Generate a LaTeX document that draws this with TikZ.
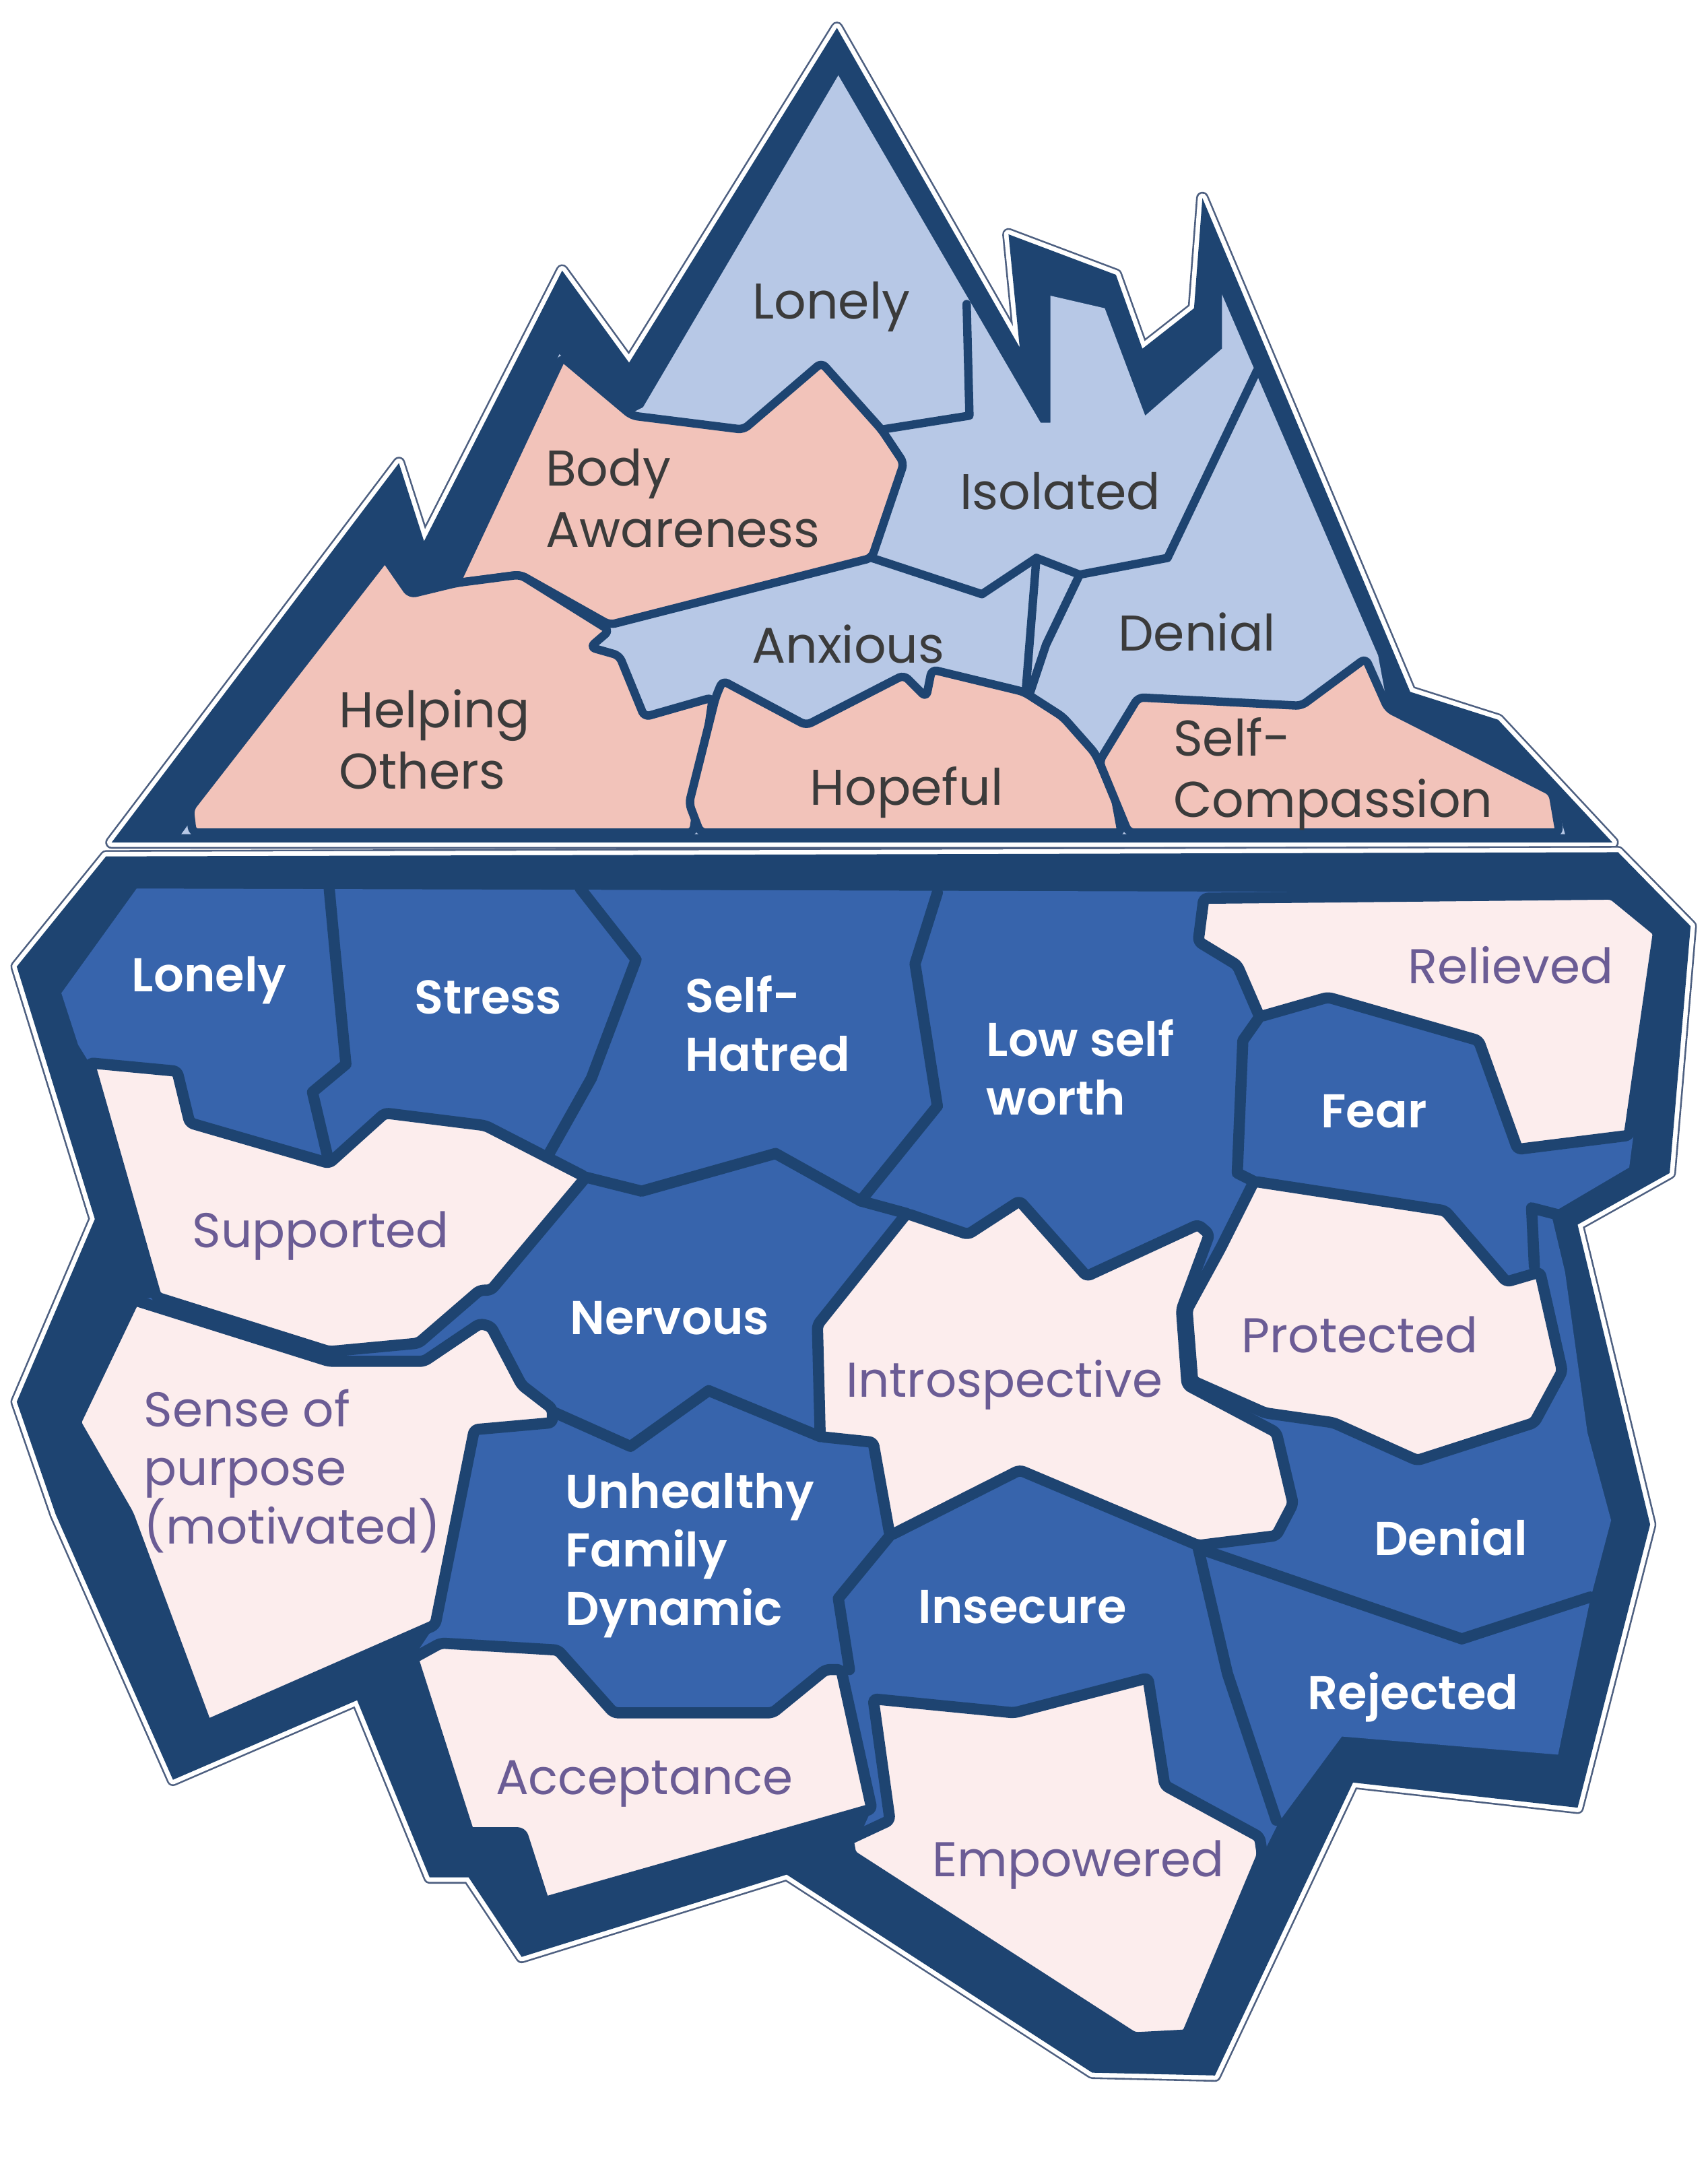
\documentclass[tikz,border=0pt]{standalone}
\usepackage{fontspec}
\setmainfont{Poppins}
\newfontface\semibold{Poppins SemiBold}
\definecolor{bergnavy}{HTML}{1E4471}
\definecolor{bergdeep}{HTML}{3764AC}
\definecolor{bergsky}{HTML}{B7C8E6}
\definecolor{bergsalmon}{HTML}{F2C3BA}
\definecolor{bergblush}{HTML}{FCEDED}
\definecolor{bergplum}{HTML}{6B5C95}
\definecolor{berggrey}{HTML}{3B3B3B}
\definecolor{bergfringe}{HTML}{4D5F80}
\def\topseam{6}
\def\lowseam{8}
\tikzset{
  berg/.style={
    fill=bergnavy,
    line join=round,
    preaction={draw=bergfringe,line width=9pt,line join=round},
    preaction={draw=white,line width=6.5pt,line join=round}
  },
  seam/.style={
    draw=bergnavy,
    line width=#1 pt,
    line join=round,
    line cap=round
  },
  salmon piece/.style={
    fill=bergsalmon,
    seam=\topseam,
    rounded corners=4pt
  },
  blush piece/.style={
    fill=bergblush,
    seam=\lowseam,
    rounded corners=3pt
  },
  top label/.style={
    font=\fontsize{36}{44}\selectfont,
    text=berggrey,
    align=left,
    inner sep=0pt
  },
  deep label/.style={
    font=\fontsize{34}{42}\selectfont\semibold,
    text=white,
    align=left,
    inner sep=0pt
  },
  blush label/.style={
    font=\fontsize{35}{42}\selectfont,
    text=bergplum,
    align=left,
    inner sep=0pt
  }
}

\begin{document}
\begin{tikzpicture}[x=1pt,y=-1pt]
\useasboundingbox (0,0) rectangle (1224,1564.4);

% tip of the iceberg
\path[berg] (80,604) -- (286,332) -- (304,388) -- (403,194) -- (451,260)
  -- (600,20) -- (731,249) -- (723,168) -- (800,197) -- (819,250)
  -- (856,221) -- (862,142) -- (1011,496) -- (1074,516) -- (1156,604) -- cycle;
\fill[bergsky] (601,54) -- (746,303) -- (753,303) -- (753,212) -- (792,221)
  -- (821,298) -- (876,250) -- (876,211) -- (988,470)
  -- (995,508) -- (1113,566) -- (1122,598) -- (130,598) -- (272,402)
  -- (294,424) -- (327,416) -- (401,254) -- (453,296) -- (461,292) -- cycle;
\draw[seam=\topseam] (632,308) -- (695,298) -- (693,218);
\draw[seam=\topseam] (625,400) -- (704,426) -- (743,400) -- (735,500);
\draw[seam=\topseam] (743,400) -- (774,412) -- (837,400) -- (901,266);
\draw[seam=\topseam] (774,412) -- (750,462) -- (738,498);
\draw[seam=\topseam] (735,500) -- (788,546);

\path[salmon piece] (403,256) -- (453,298) -- (533,308) -- (589,260) -- (632,308)
  -- (648,332) -- (625,400) -- (437,448) -- (373,412) -- (327,418) -- cycle;
\path[salmon piece] (276,400) -- (294,426) -- (327,418) -- (373,412) -- (437,452)
  -- (423,464) -- (444,470) -- (462,514) -- (511,500) -- (497,597)
  -- (138,597) -- (136,580) -- cycle;
\path[salmon piece] (513,500) -- (518,488) -- (578,520) -- (648,484) -- (664,500)
  -- (668,480) -- (734,496) -- (762,514) -- (785,540) -- (799,570) -- (804,597)
  -- (502,597) -- (494,576) -- cycle;
\path[salmon piece] (788,546) -- (816,500) -- (933,506) -- (979,472) -- (995,508)
  -- (1113,568) -- (1118,597) -- (809,597) -- cycle;

\node[top label] (lonelyTop)  at (596,220) {Lonely};
\node[top label,anchor=west] (bodyAw) at (391,357) {Body\\Awareness};
\node[top label] (isolatedTop) at (760,352) {Isolated};
\node[top label] (anxiousTop) at (608,462) {Anxious};
\node[top label] (denialTop)  at (858,453) {Denial};
\node[top label,anchor=west] (helping) at (243,530) {Helping\\Others};
\node[top label] (hopeful)    at (650,568) {Hopeful};
\node[top label,anchor=west] (selfComp) at (841,555) {Self-\\Compassion};

% below the water
\path[berg] (76,614) -- (1160,611) -- (1212,664) -- (1197,841) -- (1131,878)
  -- (1183,1093) -- (1131,1296)
  -- (970,1278) -- (871,1488) -- (783,1486) -- (564,1344) -- (374,1403)
  -- (336,1346) -- (308,1346) -- (256,1219) -- (124,1276) -- (40,1086)
  -- (12,1005) -- (68,874) -- (12,693) -- cycle;
\fill[bergdeep] (98,637) -- (1160,640) -- (1190,669) -- (1168,837) -- (1112,870)
  -- (1122,912) -- (1138,1027) -- (1155,1090) -- (1140,1147) -- (1117,1258)
  -- (962,1245) -- (917,1306) -- (905,1330) -- (851,1459) -- (813,1461)
  -- (610,1330) -- (625,1297) -- (390,1364) -- (374,1314) -- (336,1314)
  -- (296,1189) -- (312,1165) -- (148,1237) -- (92,1086) -- (54,1020)
  -- (96,932) -- (112,930) -- (64,762) -- (56,749) -- (44,712) -- cycle;
\draw[seam=\lowseam] (236,637) -- (240,680) -- (248,763) -- (224,783) -- (236,834);
\draw[seam=\lowseam] (416,637) -- (456,688) -- (424,773) -- (392,830);
\draw[seam=\lowseam] (672,640) -- (656,691) -- (672,793) -- (617,861);
\draw[seam=\lowseam] (420,844) -- (460,854) -- (556,827) -- (617,861) -- (650,870);
\draw[seam=\lowseam] (903,729) -- (891,746) -- (887,841) -- (899,847);
\draw[seam=\lowseam] (1100,908) -- (1098,866) -- (1125,873);
\draw[seam=\lowseam] (396,1012) -- (452,1037) -- (508,997) -- (588,1030);
\draw[seam=\lowseam] (638,1101) -- (601,1146) -- (609,1197);
\draw[seam=\lowseam] (859,1110) -- (880,1200) -- (915,1305);
\draw[seam=\lowseam] (859,1110) -- (1048,1175) -- (1140,1145);

\path[blush piece] (863,644) -- (1156,641) -- (1189,668) -- (1168,814) -- (1088,824)
  -- (1060,746) -- (952,715) -- (903,729) -- (887,692) -- (859,675) -- cycle;
\path[blush piece] (64,762) -- (127,768) -- (136,805) -- (236,834) -- (276,798)
  -- (348,807) -- (420,844) -- (352,925) -- (344,925) -- (300,963)
  -- (236,969) -- (112,930) -- cycle;
\path[blush piece] (96,932) -- (236,976) -- (304,976) -- (344,949) -- (352,951)
  -- (374,993) -- (396,1010) -- (396,1020) -- (340,1025) -- (312,1165)
  -- (148,1237) -- (92,1086) -- (54,1020) -- cycle;
\path[blush piece] (650,870) -- (694,885) -- (731,861) -- (779,915) -- (859,878)
  -- (867,885) -- (847,939) -- (851,993) -- (915,1027) -- (927,1078)
  -- (915,1101) -- (859,1108) -- (731,1054) -- (638,1101) -- (626,1034)
  -- (588,1030) -- (586,950) -- cycle;
\path[blush piece] (899,847) -- (1036,868) -- (1080,919) -- (1104,912) -- (1120,983)
  -- (1100,1020) -- (1016,1047) -- (956,1020) -- (907,1013) -- (855,990)
  -- (851,939) -- (875,895) -- cycle;
\path[blush piece] (296,1189) -- (316,1178) -- (400,1183) -- (440,1228) -- (554,1228)
  -- (592,1197) -- (603,1197) -- (625,1297) -- (390,1364) -- (374,1314)
  -- (336,1314) -- cycle;
\path[blush piece] (626,1218) -- (727,1228) -- (823,1203) -- (835,1280) -- (903,1317)
  -- (905,1330) -- (851,1459) -- (813,1461) -- (610,1330) -- (608,1319)
  -- (638,1305) -- cycle;

\node[deep label] (lonelyLow) at (150,703) {Lonely};
\node[deep label] (stress)    at (350,715) {Stress};
\node[deep label,anchor=west] (selfHatred) at (491,734) {Self-\\Hatred};
\node[deep label,anchor=west] (lowWorth)   at (707,765) {Low self\\worth};
\node[deep label] (fear)      at (985,797) {Fear};
\node[deep label] (nervous)   at (480,945) {Nervous};
\node[deep label,anchor=west] (family) at (405,1115) {Unhealthy\\Family\\Dynamic};
\node[deep label] (denialLow) at (1040,1102) {Denial};
\node[deep label] (insecure)  at (733,1152) {Insecure};
\node[deep label] (rejected)  at (1013,1217) {Rejected};

\node[blush label] (relieved)  at (1083,692) {Relieved};
\node[blush label] (supported) at (230,886) {Supported};
\node[blush label] (protected) at (975,957) {Protected};
\node[blush label] (intro)     at (720,993) {Introspective};
\node[blush label,anchor=west] (purpose) at (103,1055) {Sense of\\purpose\\(motivated)};
\node[blush label] (acceptance) at (462,1279) {Acceptance};
\node[blush label] (empowered)  at (773,1337) {Empowered};
\end{tikzpicture}
\end{document}
